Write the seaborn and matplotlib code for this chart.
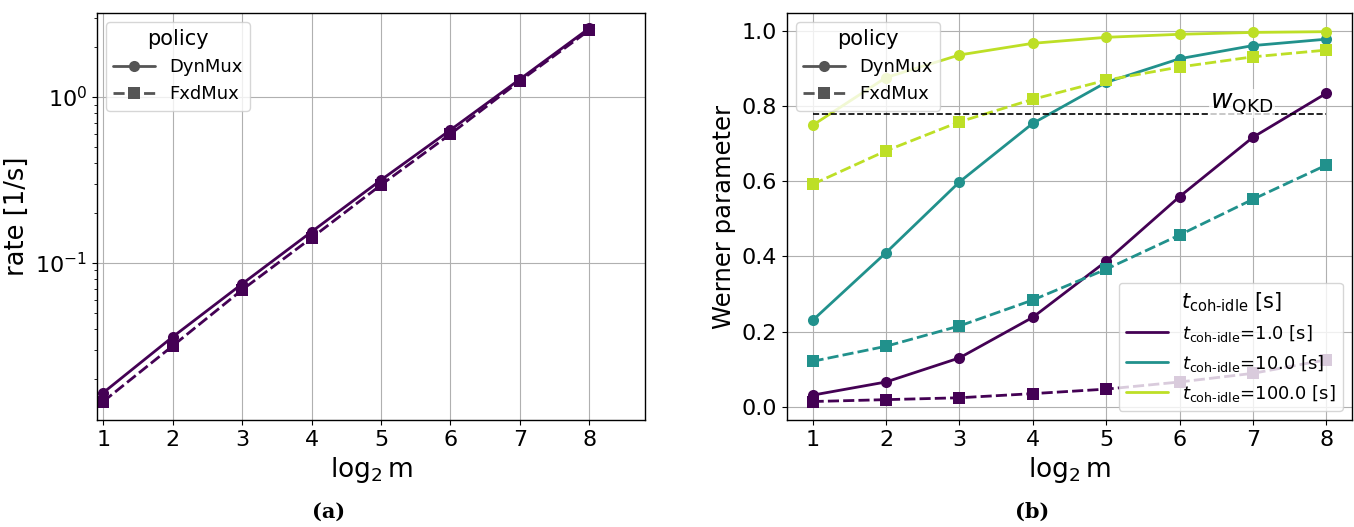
import matplotlib
matplotlib.use('Agg')

import matplotlib.pyplot as plt
from matplotlib.lines import Line2D
import seaborn as sns
import pandas as pd
import numpy as np

# ===== STYLE =====
sns.set_style("ticks")
plt.rcParams.update({
    "font.family": ["DejaVu Sans"],
    "text.color": "black",
    "axes.labelcolor": "black",
    "xtick.color": "black",
    "ytick.color": "black",
    "axes.edgecolor": "black",
    "axes.linewidth": 1.0,
    "xtick.labelsize": 16,
    "ytick.labelsize": 16,
    "legend.fontsize": 13,
    "mathtext.fontset": "dejavusans",
})

# ===== DATA =====
log2m = [1, 2, 3, 4, 5, 6, 7, 8]
policies = ["DynMux", "FxdMux"]
t_coh = [1.0, 10.0, 100.0]

# (a) rate [1/s]
rate_dyn = [0.0165, 0.0358, 0.0747, 0.154, 0.316, 0.633, 1.28, 2.60]
rate_fxd = [0.0146, 0.0316, 0.0688, 0.1415, 0.295, 0.598, 1.25, 2.53]

# (b) Werner parameter
w_dyn_1 = [0.031, 0.066, 0.130, 0.238, 0.387, 0.559, 0.717, 0.834]
w_fxd_1 = [0.014, 0.019, 0.024, 0.035, 0.047, 0.066, 0.089, 0.125]
w_dyn_10 = [0.230, 0.410, 0.598, 0.754, 0.863, 0.926, 0.961, 0.978]
w_fxd_10 = [0.121, 0.161, 0.215, 0.284, 0.366, 0.457, 0.552, 0.643]
w_dyn_100 = [0.749, 0.876, 0.936, 0.967, 0.983, 0.991, 0.996, 0.998]
w_fxd_100 = [0.592, 0.681, 0.758, 0.818, 0.869, 0.904, 0.931, 0.949]
w_qkd = 0.78

cmap = plt.get_cmap("viridis")
palette = {1.0: cmap(0.0), 10.0: cmap(0.5), 100.0: cmap(0.9)}

# ===== LONG TABLES =====
df_rate = pd.DataFrame({
    "log2m": log2m * 2,
    "rate": rate_dyn + rate_fxd,
    "policy": ["DynMux"] * 8 + ["FxdMux"] * 8,
    "t": [1.0] * 16,
})

w_series = {
    (1.0, "DynMux"): w_dyn_1, (1.0, "FxdMux"): w_fxd_1,
    (10.0, "DynMux"): w_dyn_10, (10.0, "FxdMux"): w_fxd_10,
    (100.0, "DynMux"): w_dyn_100, (100.0, "FxdMux"): w_fxd_100,
}
rows = []
for (t, pol), vals in w_series.items():
    for x, v in zip(log2m, vals):
        rows.append({"log2m": x, "werner": v, "policy": pol, "t": t})
df_w = pd.DataFrame(rows)

# ===== FIGURE =====
fig = plt.figure(figsize=(13.54, 5.27), dpi=100)
ax1 = fig.add_axes([0.0716, 0.203, 0.4047, 0.772])
ax2 = fig.add_axes([0.5812, 0.203, 0.4173, 0.772])

line_kw = dict(markers={"DynMux": "o", "FxdMux": "s"},
               dashes={"DynMux": "", "FxdMux": (4, 1.5)},
               linewidth=2, markersize=8, markeredgewidth=0, legend=False)

# ---- (a) ----
sns.lineplot(data=df_rate, x="log2m", y="rate", hue="t", palette=palette,
             style="policy", style_order=policies, ax=ax1, **line_kw)
ax1.set_yscale("log")
ax1.set_xlim(0.91, 8.8)
ax1.set_ylim(0.0113, 3.2)
ax1.set_xticks(log2m)
ax1.set_xlabel(r"$\log_2\mathrm{m}$", fontsize=19)
ax1.set_ylabel("rate [1/s]", fontsize=18.5)
ax1.grid(True, which="major", color="#b0b0b0", linewidth=0.8)

pol_handles = [
    Line2D([], [], color="#555555", lw=2, marker="o", markersize=8, markeredgewidth=0),
    Line2D([], [], color="#555555", lw=2, marker="s", markersize=8, markeredgewidth=0,
           dashes=(4, 1.5)),
]
ax1.legend(pol_handles, policies, title="policy", loc="upper left",
           title_fontsize=15, handlelength=2.3)

# ---- (b) ----
sns.lineplot(data=df_w, x="log2m", y="werner", hue="t", palette=palette,
             style="policy", style_order=policies, ax=ax2, **line_kw)
ax2.hlines(w_qkd, 1, 8, colors="black", linestyles="--", linewidth=1.2)
ax2.text(6.85, w_qkd - 0.008, r"$w_{\mathrm{QKD}}$", fontsize=19, ha="center", va="bottom",
         bbox=dict(facecolor="white", edgecolor="none", alpha=0.75, pad=1))
ax2.set_xticks(log2m)
ax2.set_yticks([0.0, 0.2, 0.4, 0.6, 0.8, 1.0])
ax2.set_xlabel(r"$\log_2\mathrm{m}$", fontsize=19)
ax2.set_ylabel("Werner parameter", fontsize=17.5)
ax2.grid(True, color="#b0b0b0", linewidth=0.8)

leg1 = ax2.legend(pol_handles, policies, title="policy", loc="upper left",
                  title_fontsize=15, handlelength=2.3)
ax2.add_artist(leg1)
t_handles = [Line2D([], [], color=palette[t], lw=2) for t in t_coh]
t_labels = [r"$t_{\mathrm{coh\text{-}idle}}$=" + f"{t} [s]" for t in t_coh]
ax2.legend(t_handles, t_labels, title=r"$t_{\mathrm{coh\text{-}idle}}$ [s]",
           loc="lower right", title_fontsize=15, handlelength=2.3)

# ---- captions ----
fig.text(0.243, 0.018, "(a)", family="DejaVu Serif", fontweight="bold", fontsize=15, ha="center")
fig.text(0.762, 0.018, "(b)", family="DejaVu Serif", fontweight="bold", fontsize=15, ha="center")

fig.savefig("out.png", dpi=100)
plt.close(fig)
